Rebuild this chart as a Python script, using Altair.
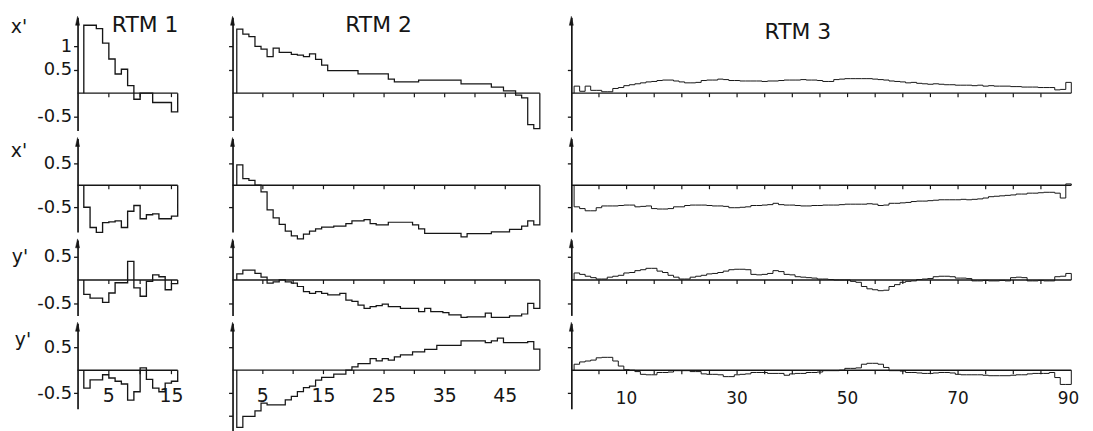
import altair as alt
import pandas as pd

column_titles = ["RTM 1", "RTM 2", "RTM 3"]
row_titles = ["x'", "x'", "y'", "y'"]

# ---- RTM 1 (15 steps) ----
rtm1_xa = [1.45, 1.45, 1.38, 1.07, 0.73, 0.41, 0.51, 0.16, -0.13, 0.00,
           0.00, -0.20, -0.20, -0.20, -0.40]
rtm1_xb = [-0.50, -0.96, -1.07, -0.85, -0.83, -0.81, -0.96, -0.59, -0.46, -0.76,
           -0.67, -0.65, -0.76, -0.76, -0.70]
rtm1_ya = [-0.31, -0.39, -0.39, -0.48, -0.28, -0.06, -0.06, 0.40, -0.17, -0.35,
           -0.03, 0.11, 0.07, -0.21, -0.08]
rtm1_yb = [-0.39, -0.21, -0.21, -0.10, -0.17, -0.24, -0.30, -0.65, -0.47, 0.05,
           -0.20, -0.39, -0.47, -0.28, -0.24]

# ---- RTM 2 (50 steps) ----
rtm2_xa = [1.37, 1.26, 1.21, 1.00, 0.94, 0.78, 0.96, 0.87, 0.87, 0.83,
           0.81, 0.78, 0.84, 0.72, 0.60, 0.48, 0.48, 0.48, 0.48, 0.48,
           0.41, 0.41, 0.41, 0.41, 0.41, 0.30, 0.24, 0.24, 0.24, 0.24,
           0.28, 0.28, 0.28, 0.28, 0.28, 0.28, 0.28, 0.20, 0.20, 0.20,
           0.20, 0.20, 0.13, 0.13, 0.05, 0.05, -0.04, -0.10, -0.67, -0.76]
rtm2_xb = [0.46, 0.15, 0.11, 0.00, -0.15, -0.56, -0.74, -0.89, -1.04, -1.15,
           -1.22, -1.11, -1.04, -0.99, -0.95, -0.95, -0.93, -0.93, -0.87, -0.81,
           -0.81, -0.78, -0.87, -0.90, -0.90, -0.84, -0.84, -0.84, -0.84, -0.90,
           -0.99, -1.09, -1.09, -1.09, -1.09, -1.09, -1.09, -1.17, -1.10, -1.10,
           -1.10, -1.10, -1.06, -1.06, -1.06, -1.00, -1.00, -0.93, -0.81, -0.90]
rtm2_ya = [0.13, 0.21, 0.21, 0.14, 0.06, -0.07, -0.04, 0.00, -0.04, -0.07,
           -0.14, -0.25, -0.29, -0.25, -0.29, -0.32, -0.32, -0.29, -0.43, -0.46,
           -0.54, -0.61, -0.57, -0.55, -0.52, -0.57, -0.57, -0.61, -0.61, -0.61,
           -0.68, -0.61, -0.68, -0.68, -0.70, -0.75, -0.75, -0.80, -0.79, -0.79,
           -0.79, -0.71, -0.80, -0.80, -0.80, -0.77, -0.77, -0.73, -0.50, -0.61]
rtm2_yb = [-1.25, -1.01, -1.01, -0.89, -0.72, -0.76, -0.76, -0.76, -0.65, -0.57,
           -0.47, -0.38, -0.35, -0.22, -0.16, -0.16, -0.09, -0.09, 0.00, 0.07,
           0.14, 0.14, 0.25, 0.20, 0.25, 0.22, 0.29, 0.33, 0.33, 0.40,
           0.40, 0.45, 0.45, 0.54, 0.54, 0.54, 0.54, 0.64, 0.64, 0.64,
           0.64, 0.60, 0.64, 0.70, 0.60, 0.60, 0.60, 0.60, 0.62, 0.46]

# ---- RTM 3 (90 steps) ----
rtm3_xa = [0.15, 0.04, 0.15, 0.06, 0.06, 0.03, 0.03, 0.10, 0.12, 0.16,
           0.18, 0.20, 0.22, 0.24, 0.25, 0.27, 0.28, 0.28, 0.26, 0.24,
           0.22, 0.22, 0.23, 0.27, 0.28, 0.28, 0.30, 0.29, 0.27, 0.27,
           0.26, 0.26, 0.26, 0.26, 0.25, 0.26, 0.26, 0.27, 0.28, 0.28,
           0.28, 0.29, 0.28, 0.28, 0.27, 0.25, 0.25, 0.29, 0.30, 0.31,
           0.31, 0.31, 0.31, 0.31, 0.30, 0.29, 0.28, 0.26, 0.25, 0.24,
           0.22, 0.23, 0.21, 0.20, 0.19, 0.20, 0.19, 0.18, 0.18, 0.17,
           0.17, 0.17, 0.16, 0.17, 0.15, 0.16, 0.15, 0.15, 0.15, 0.14,
           0.14, 0.13, 0.13, 0.13, 0.12, 0.12, 0.12, 0.07, 0.08, 0.23]
rtm3_xb = [-0.49, -0.53, -0.58, -0.58, -0.51, -0.47, -0.47, -0.47, -0.46, -0.45,
           -0.45, -0.49, -0.48, -0.47, -0.53, -0.54, -0.54, -0.53, -0.49, -0.49,
           -0.46, -0.45, -0.45, -0.45, -0.46, -0.47, -0.47, -0.48, -0.51, -0.51,
           -0.50, -0.49, -0.46, -0.46, -0.45, -0.44, -0.41, -0.44, -0.45, -0.45,
           -0.46, -0.47, -0.47, -0.46, -0.46, -0.45, -0.45, -0.45, -0.44, -0.43,
           -0.43, -0.43, -0.43, -0.42, -0.43, -0.46, -0.45, -0.41, -0.41, -0.40,
           -0.39, -0.37, -0.36, -0.36, -0.35, -0.34, -0.33, -0.33, -0.33, -0.33,
           -0.32, -0.33, -0.32, -0.31, -0.29, -0.26, -0.25, -0.24, -0.23, -0.22,
           -0.20, -0.20, -0.18, -0.18, -0.17, -0.16, -0.16, -0.18, -0.29, 0.03]
rtm3_ya = [0.15, 0.12, 0.08, 0.05, 0.02, 0.02, 0.06, 0.08, 0.10, 0.15,
           0.16, 0.20, 0.22, 0.25, 0.25, 0.19, 0.16, 0.10, 0.06, 0.02,
           0.02, 0.06, 0.08, 0.10, 0.13, 0.14, 0.16, 0.19, 0.22, 0.23,
           0.23, 0.22, 0.12, 0.11, 0.12, 0.14, 0.20, 0.18, 0.12, 0.11,
           0.07, 0.06, 0.05, 0.04, 0.02, 0.02, 0.01, 0.00, 0.00, 0.00,
           -0.03, -0.05, -0.14, -0.19, -0.21, -0.23, -0.22, -0.14, -0.10, -0.05,
           -0.03, -0.02, 0.01, 0.02, 0.03, 0.07, 0.08, 0.08, 0.07, 0.04,
           0.04, 0.03, -0.02, -0.02, -0.01, -0.02, -0.02, -0.01, -0.02, 0.05,
           0.06, 0.05, -0.02, -0.02, -0.01, -0.02, -0.02, 0.07, 0.08, 0.14]
rtm3_yb = [0.13, 0.18, 0.20, 0.22, 0.27, 0.28, 0.28, 0.20, 0.09, 0.01,
           0.00, -0.03, -0.09, -0.10, -0.10, -0.05, -0.05, -0.04, -0.01, -0.01,
           -0.01, -0.03, -0.03, -0.08, -0.09, -0.09, -0.10, -0.14, -0.14, -0.10,
           -0.09, -0.08, -0.05, -0.05, -0.05, -0.07, -0.07, -0.07, -0.11, -0.08,
           -0.07, -0.07, -0.05, -0.05, -0.04, -0.01, -0.01, -0.01, 0.00, 0.04,
           0.04, 0.05, 0.13, 0.15, 0.15, 0.13, 0.06, -0.01, -0.01, -0.02,
           -0.05, -0.05, -0.06, -0.07, -0.07, -0.06, -0.05, -0.05, -0.06, -0.09,
           -0.10, -0.10, -0.10, -0.10, -0.11, -0.12, -0.12, -0.12, -0.12, -0.11,
           -0.10, -0.10, -0.08, -0.07, -0.07, -0.07, -0.05, -0.16, -0.31, -0.31]

# axis tick positions and labels
rtm1_xticks = [5, 10, 15]
rtm2_xticks = [5, 10, 15, 20, 25, 30, 35, 40, 45]
rtm3_xticks = [5, 10, 15, 20, 25, 30, 35, 40, 45, 50, 55, 60, 65, 70, 75, 80, 85]
rtm1_xlabels = [5, 15]
rtm2_xlabels = [5, 15, 25, 35, 45]
rtm3_xlabels = [10, 30, 50, 70, 90]
yticks_rtm1 = [[1, 0.5, -0.5], [0.5, -0.5], [0.5, -0.5], [0.5, -0.5]]
yticks_rtm2 = [[1, 0.5, -0.5], [0.5, -0.5], [0.5, -0.5], [0.5, -0.5, -1]]
yticks_rtm3 = [[0.5, -0.5], [0.5, -0.5], [0.5, -0.5], [0.5, -0.5]]

FONT = "DejaVu Sans"
INK = "#161616"

row_domains = [(-0.80, 1.62), (-1.06, 1.06), (-0.76, 0.86), (-0.84, 1.02)]
row_heights = [114, 94, 76, 86]

columns = [
    dict(series=[rtm1_xa, rtm1_xb, rtm1_ya, rtm1_yb], offset=0.0, width=125.5, xmax=19.92,
         ticks=rtm1_xticks, labels=rtm1_xlabels, yticks=yticks_rtm1,
         title_pos=(68, 8), label_size=19, label_y=73, lw=1.35),
    dict(series=[rtm2_xa, rtm2_xb, rtm2_ya, rtm2_yb], offset=-0.3, width=311, xmax=50.98,
         ticks=rtm2_xticks, labels=rtm2_xlabels, yticks=yticks_rtm2,
         title_pos=(147, 8), label_size=19, label_y=73, lw=1.25),
    dict(series=[rtm3_xa, rtm3_xb, rtm3_ya, rtm3_yb], offset=-0.5, width=506, xmax=91.0,
         ticks=rtm3_xticks, labels=rtm3_xlabels, yticks=yticks_rtm3,
         title_pos=(228, 15), label_size=17, label_y=76, lw=1.0),
]
row_title_pos = [(-59, 10), (-59, 13), (-58, 17), (-55, 17)]


def build_panel(ci, ri):
    cfg = columns[ci]
    vals = cfg["series"][ri]
    a = cfg["offset"]
    n = len(vals)
    end = n + 1 + a
    xs = [1 + a] + [i + 1 + a for i in range(n)] + [end, end]
    ys = [0.0] + list(vals) + [vals[-1], 0.0]
    df = pd.DataFrame({"x": xs, "y": ys, "k": list(range(len(xs)))})

    lo, hi = row_domains[ri]
    h = row_heights[ri]
    if ci == 1 and ri == 3:
        lo, h = -1.32, 108

    xsc = alt.Scale(domain=[0, cfg["xmax"]], nice=False, zero=False)
    ysc = alt.Scale(domain=[lo, hi], nice=False, zero=False)

    yaxis = alt.Axis(
        values=cfg["yticks"][ri], labels=(ci == 0), title=None, grid=False,
        domain=True, domainColor=INK, domainWidth=1.7, ticks=True, tickColor=INK,
        tickSize=4, tickWidth=1.3, labelFont=FONT, labelFontSize=18, labelColor=INK,
        labelPadding=2,
        labelExpr="(datum.value < 0 ? '-' : '') + format(abs(datum.value), '.1~f')",
    )

    def Y(field):
        return alt.Y(field, scale=ysc, axis=yaxis)

    def X(field):
        return alt.X(field, scale=xsc, axis=None)

    line = alt.Chart(df).mark_line(interpolate="step-after", stroke=INK,
                                   strokeWidth=cfg["lw"]).encode(
        x=X("x:Q"), y=Y("y:Q"), order=alt.Order("k:Q"))
    zero = alt.Chart(pd.DataFrame({"x0": [0.0], "x1": [end], "y0": [0.0]})).mark_rule(
        stroke=INK, strokeWidth=1.4).encode(x=X("x0:Q"), x2="x1:Q", y=Y("y0:Q"))
    tdf = pd.DataFrame({"t": cfg["ticks"], "z": [0.0] * len(cfg["ticks"])})
    ticks = alt.Chart(tdf).mark_point(shape="M0,0L0,2", size=16, filled=False, stroke=INK,
                                      strokeWidth=1.2, opacity=1).encode(x=X("t:Q"), y=Y("z:Q"))
    arrow = alt.Chart(pd.DataFrame({"x": [0.0], "y": [hi]})).mark_point(
        shape="M0,-0.5L-1,4L1,4Z", size=16, filled=True, fill=INK, stroke=INK,
        strokeWidth=0.5, opacity=1).encode(x=X("x:Q"), y=Y("y:Q"))
    layers = [zero, line, ticks, arrow]

    if ri == 0:
        tx, ty = cfg["title_pos"]
        layers.append(alt.Chart(pd.DataFrame({"s": [column_titles[ci]]})).mark_text(
            font=FONT, fontSize=22, color=INK, align="center", baseline="middle").encode(
            text="s:N", x=alt.value(tx), y=alt.value(ty)))
    if ci == 0:
        rx, ry = row_title_pos[ri]
        layers.append(alt.Chart(pd.DataFrame({"s": [row_titles[ri]]})).mark_text(
            font=FONT, fontSize=19, color=INK, align="center", baseline="middle").encode(
            text="s:N", x=alt.value(rx), y=alt.value(ry)))
    if ri == 3:
        ldf = pd.DataFrame({"v": cfg["labels"], "s": [str(v) for v in cfg["labels"]]})
        layers.append(alt.Chart(ldf).mark_text(
            font=FONT, fontSize=cfg["label_size"], color=INK, align="center",
            baseline="middle").encode(
            x=X("v:Q"), y=alt.value(cfg["label_y"]), text="s:N"))

    return alt.layer(*layers).properties(width=cfg["width"], height=h)


panels = [build_panel(ci, ri) for ri in range(4) for ci in range(3)]

chart = alt.concat(*panels, columns=3, spacing={"row": 8, "column": 30},
                   bounds="flush", align="each").properties(
    padding={"left": 2, "top": 5, "right": 5, "bottom": 5}, background="white"
).configure_view(stroke=None)

chart.save("out.html", embed_options={"renderer": "svg", "actions": False})
